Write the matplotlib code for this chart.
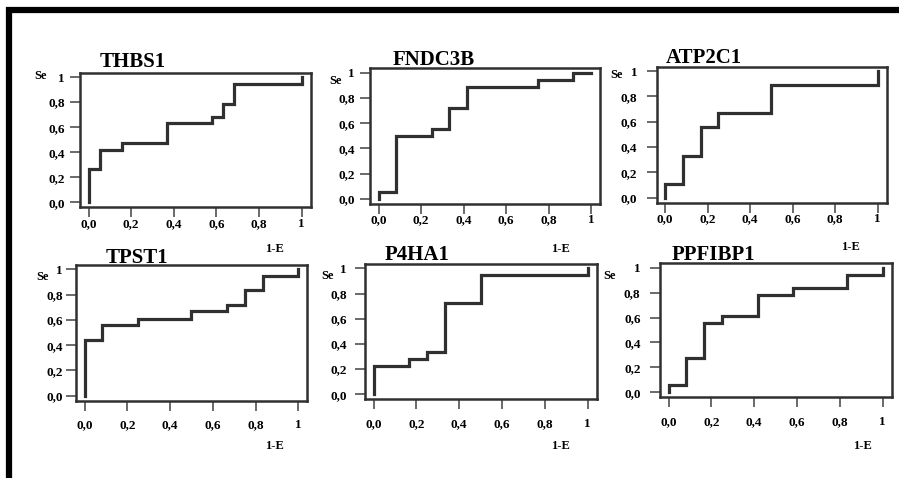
import matplotlib
matplotlib.use("Agg")
import matplotlib.pyplot as plt
from matplotlib.lines import Line2D

W, H = 899, 478

genes = ["THBS1", "FNDC3B", "ATP2C1", "TPST1", "P4HA1", "PPFIBP1"]

# ROC step vertices (1-E, Se), drawn with steps-pre
thbs1_fpr = [0, 0.053, 0.158, 0.368, 0.579, 0.632, 0.684, 1, 1]
thbs1_se = [0, 0.263, 0.421, 0.474, 0.632, 0.684, 0.789, 0.947, 1]
fndc3b_fpr = [0, 0.083, 0.25, 0.333, 0.417, 0.75, 0.917, 1]
fndc3b_se = [0, 0.056, 0.5, 0.556, 0.722, 0.889, 0.944, 1]
atp2c1_fpr = [0, 0.083, 0.167, 0.25, 0.5, 1, 1]
atp2c1_se = [0, 0.111, 0.333, 0.556, 0.667, 0.889, 1]
tpst1_fpr = [0, 0.083, 0.25, 0.5, 0.667, 0.75, 0.833, 1, 1]
tpst1_se = [0, 0.444, 0.556, 0.611, 0.667, 0.722, 0.833, 0.944, 1]
p4ha1_fpr = [0, 0.167, 0.25, 0.333, 0.5, 1, 1]
p4ha1_se = [0, 0.222, 0.278, 0.333, 0.722, 0.944, 1]
ppfibp1_fpr = [0, 0.083, 0.167, 0.25, 0.417, 0.583, 0.833, 1, 1]
ppfibp1_se = [0, 0.056, 0.278, 0.556, 0.611, 0.778, 0.833, 0.944, 1]

tick_vals = [0, 0.2, 0.4, 0.6, 0.8, 1]
tick_labels = ["0,0", "0,2", "0,4", "0,6", "0,8", "1"]

curves = [
    (thbs1_fpr, thbs1_se), (fndc3b_fpr, fndc3b_se), (atp2c1_fpr, atp2c1_se),
    (tpst1_fpr, tpst1_se), (p4ha1_fpr, p4ha1_se), (ppfibp1_fpr, ppfibp1_se),
]

# layout in pixels: box (left, top, right, bottom), title (x, baseline),
# Se label (x, y), 1-E label (x, y), y label pad, x label pad
boxes = [(80, 72.7, 310.7, 207.3), (370, 68.3, 600, 204), (656.7, 66.7, 886.7, 202.7),
         (76, 265, 307.3, 400.7), (365, 264, 596.7, 399.3), (660, 263.3, 891.7, 397.3)]
title_pos = [(100, 67), (393, 65), (666, 63), (106, 263), (385, 260), (672, 260)]
se_pos = [(41, 76), (336, 81), (617, 75), (43, 277), (328, 276), (610, 276)]
e_pos = [(274, 249), (560, 249), (850, 247), (274, 446), (560, 446), (862, 446)]
ypads = [4, 4, 7, 2.5, 6, 7]
xpads = [0.5, 0.5, 0.5, 6.5, 6.5, 6.5]

SERIF = "Liberation Serif"
DARK = "#303030"

fig = plt.figure(figsize=(W / 100, H / 100), dpi=100)
fig.patch.set_facecolor("white")


def fx(px):
    return px / W


def fy(py):
    return 1 - py / H


for i, gene in enumerate(genes):
    l, t, r, b = boxes[i]
    ax = fig.add_axes([fx(l), fy(b), (r - l) / W, (b - t) / H])
    x, y = curves[i]
    ax.plot(x, y, drawstyle="steps-pre", color=DARK, lw=2.3, solid_joinstyle="miter")
    ax.set_xlim(-0.04, 1.042)
    ax.set_ylim(-0.04, 1.035)
    ax.set_xticks(tick_vals)
    ax.set_xticklabels(tick_labels)
    ax.set_yticks(tick_vals)
    ax.set_yticklabels(tick_labels)
    for s in ax.spines.values():
        s.set_linewidth(1.8)
        s.set_color(DARK)
    ax.tick_params(direction="out", length=7, width=1.2, color="#505050",
                   labelsize=9.5)
    ax.tick_params(axis="y", pad=ypads[i])
    ax.tick_params(axis="x", pad=xpads[i])
    for lab in ax.get_xticklabels() + ax.get_yticklabels():
        lab.set_family(SERIF)
        lab.set_fontweight("bold")

    tx, ty = title_pos[i]
    fig.text(fx(tx), fy(ty), gene, family=SERIF, fontweight="bold", fontsize=15,
             ha="left", va="baseline")
    sx, sy = se_pos[i]
    fig.text(fx(sx), fy(sy), "Se", family=SERIF, fontweight="bold", fontsize=9,
             ha="center", va="center")
    ex, ey = e_pos[i]
    fig.text(fx(ex), fy(ey), "1-E", family=SERIF, fontweight="bold", fontsize=9,
             ha="center", va="center")

# outer frame: top and left borders only
fig.add_artist(Line2D([fx(6), fx(899)], [fy(10), fy(10)], color="black", lw=4.5,
                      solid_capstyle="butt"))
fig.add_artist(Line2D([fx(9), fx(9)], [fy(7), fy(478)], color="black", lw=4.5,
                      solid_capstyle="butt"))

fig.savefig("out.png", dpi=100)
